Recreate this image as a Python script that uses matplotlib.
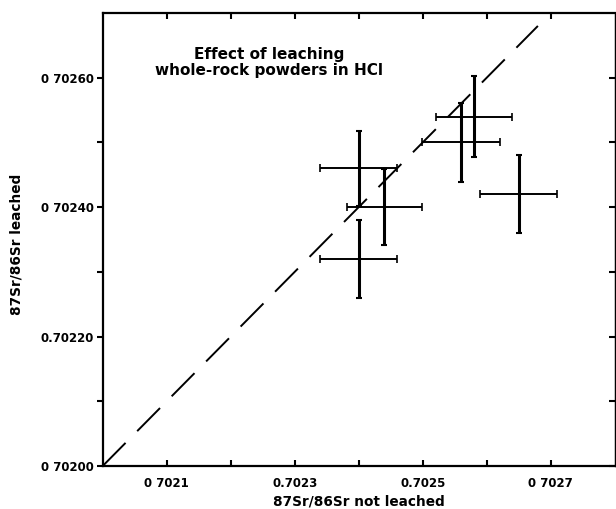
import matplotlib
matplotlib.use("Agg")
import matplotlib.pyplot as plt
import numpy as np

# ---- data ----
not_leached = [0.70240, 0.70244, 0.70240, 0.70256, 0.70258, 0.70265]
leached = [0.70246, 0.70240, 0.70232, 0.70250, 0.70254, 0.70242]
err_not_leached = [0.000060, 0.000059, 0.000060, 0.000061, 0.000060, 0.000060]
err_leached = [0.000058, 0.000059, 0.000060, 0.000061, 0.000062, 0.000060]

equal_line = [0.70200, 0.70268]

x_ticks = [0.7021, 0.7022, 0.7023, 0.7024, 0.7025, 0.7026, 0.7027]
x_tick_labels = ["0 7021", "", "0.7023", "", "0.7025", "", "0 7027"]
y_ticks = [0.70200, 0.70210, 0.70220, 0.70230, 0.70240, 0.70250, 0.70260]
y_tick_labels = ["0 70200", "", "0.70220", "", "0 70240", "", "0 70260"]

title_text = "Effect of leaching\nwhole-rock powders in HCl"
x_label = "87Sr/86Sr not leached"
y_label = "87Sr/86Sr leached"

plt.rcParams['font.family'] = ['DejaVu Sans']
plt.rcParams['lines.scale_dashes'] = False

fig = plt.figure(figsize=(6.16, 5.09), dpi=100)
ax = fig.add_axes([102.7 / 616, 43 / 509, 512 / 616, 453 / 509])

ax.set_xlim(0.7020, 0.7028)
ax.set_ylim(0.7020, 0.7027)

# dashed 1:1 line
ax.plot(equal_line, equal_line, color='black', lw=1.4, dashes=(23.4, 11.9),
        solid_capstyle='butt', dash_capstyle='butt')

# horizontal error bars (thinner)
ax.errorbar(not_leached, leached, xerr=err_not_leached, fmt='none',
            ecolor='black', elinewidth=1.4, capsize=2.8, capthick=1.2)
# vertical error bars (thicker)
ax.errorbar(not_leached, leached, yerr=err_leached, fmt='none',
            ecolor='black', elinewidth=2.2, capsize=2.5, capthick=1.5)

# ticks
ax.set_xticks(x_ticks)
ax.set_xticklabels(x_tick_labels, fontsize=8.5, fontweight='bold')
ax.set_yticks(y_ticks)
ax.set_yticklabels(y_tick_labels, fontsize=8.5, fontweight='bold')
ax.tick_params(axis='x', direction='in', top=True, bottom=True,
               length=4, width=1.5, pad=8)
ax.tick_params(axis='y', direction='out', left=True, right=False,
               length=4, width=1.5, pad=2)

sec = ax.secondary_yaxis('right')
sec.set_yticks(y_ticks)
sec.tick_params(axis='y', direction='in', length=4.5, width=1.5,
                labelright=False)
sec.spines['right'].set_linewidth(0.9)

for side in ['left', 'top', 'bottom']:
    ax.spines[side].set_linewidth(1.6)
ax.spines['right'].set_linewidth(0.9)

ax.set_xlabel(x_label, fontsize=9.8, fontweight='bold', labelpad=3)
ax.set_ylabel(y_label, fontsize=9.8, fontweight='bold')
ax.yaxis.set_label_coords(-0.155, 0.49)

ax.text(0.325, 0.890, title_text, transform=ax.transAxes, ha='center',
        va='center', fontsize=11, fontweight='bold', linespacing=1.1)

fig.savefig("out.png", dpi=100)
